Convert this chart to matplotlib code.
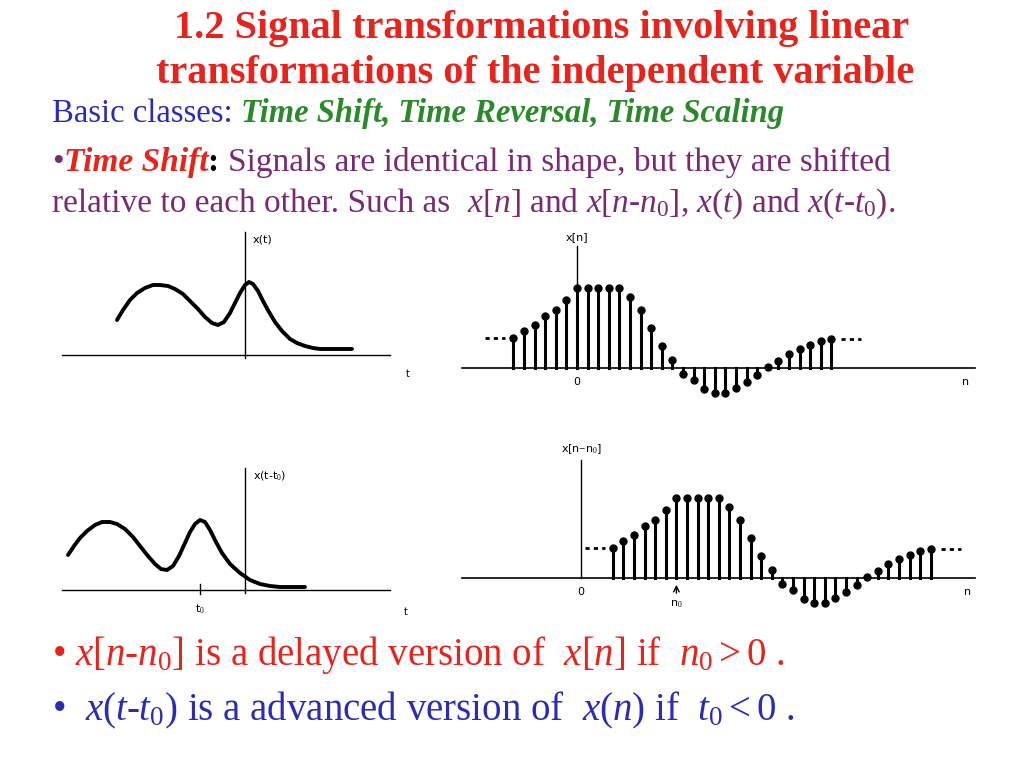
import matplotlib
matplotlib.use("Agg")
import matplotlib.pyplot as plt
import numpy as np

plt.rcParams['mathtext.fontset'] = 'custom'
plt.rcParams['mathtext.rm'] = 'Liberation Serif'
plt.rcParams['mathtext.it'] = 'Liberation Serif:italic'
plt.rcParams['mathtext.bf'] = 'Liberation Serif:bold'

# discrete signal x[n], n = -6..24
n_vals = list(range(-6, 25))
x_n = [90, 110, 127, 153, 173, 202, 237, 237, 237, 237, 237, 210, 172, 118, 65, 23,
       -17, -37, -63, -75, -75, -60, -42, -22, 2, 20, 40, 55, 68, 80, 87]
n0 = 9
# continuous curve x(t) samples (t relative to axis, amplitude)
t_top = [-128, -122, -115, -108, -100, -92, -85, -77, -70, -62, -55, -47, -40, -33, -27, -21,
         -15, -10, -5, 0, 4, 8, 13, 18, 24, 30, 37, 45, 52, 60, 68, 75, 90, 107]
x_top = [35, 45, 55, 62, 67, 70, 70, 69, 66, 61, 54, 46, 38, 32, 30, 33,
         42, 52, 62, 70, 73, 71, 64, 54, 43, 33, 24, 16, 12, 9, 7, 6, 6, 6]
t_bot = [-177, -171, -165, -158, -150, -143, -135, -128, -120, -112, -105, -97, -90, -84, -78,
         -72, -66, -60, -55, -50, -45, -40, -35, -29, -23, -15, -5, 5, 15, 25, 35, 60]
x_bot = [35, 44, 52, 59, 65, 68, 68, 66, 61, 53, 44, 34, 26, 21, 20, 24,
         34, 47, 58, 66, 70, 68, 60, 48, 37, 26, 17, 10, 6, 4, 3, 3]
t0_pos = -45

fig = plt.figure(figsize=(10.24, 7.68), dpi=100)
ax = fig.add_axes([0, 0, 1, 1])
ax.set_xlim(0, 1024); ax.set_ylim(768, 0); ax.axis('off')

serif = 'Liberation Serif'
sans = 'DejaVu Sans'
RED = '#e8231b'; BLUE = '#2b2bb8'; GREEN = '#2a8a2a'; PURPLE = '#7a2a72'

fig.canvas.draw()
R = fig.canvas.get_renderer()
def seq(x, y, pieces, size):
    for txt, col, kw in pieces:
        t = ax.text(x, y, txt, color=col, fontsize=size, family=serif, va='baseline', ha='left', **kw)
        bb = t.get_window_extent(renderer=R)
        x += bb.width

ax.text(542, 38, "1.2 Signal transformations involving linear", ha='center', va='baseline',
        fontsize=29, family=serif, weight='bold', color=RED)
ax.text(535, 83, "transformations of the independent variable", ha='center', va='baseline',
        fontsize=29, family=serif, weight='bold', color=RED)
seq(52, 122, [("Basic classes: ", BLUE, {}),
              ("Time Shift, Time Reversal, Time Scaling", GREEN, dict(style='italic', weight='bold'))], 23.5)
seq(52, 171, [("•", PURPLE, {}), ("Time Shift", RED, dict(style='italic', weight='bold')),
              (": ", 'black', dict(weight='bold')),
              ("Signals are identical in shape, but they are shifted", PURPLE, {})], 24)
seq(52, 212, [("relative to each other. Such as  ", PURPLE, {}),
              (r"$\mathit{x}$[$\mathit{n}$] and $\mathit{x}$[$\mathit{n}$-$\mathit{n}_0$], $\mathit{x}$($\mathit{t}$) and $\mathit{x}$($\mathit{t}$-$\mathit{t}_0$).", PURPLE, {})], 24)
seq(52, 665, [(r"• $\mathit{x}$[$\mathit{n}$-$\mathit{n}_0$] is a delayed version of  $\mathit{x}$[$\mathit{n}$] if  $\mathit{n}_0$$>$0 .", RED, {})], 28)
seq(52, 720, [(r"•  $\mathit{x}$($\mathit{t}$-$\mathit{t}_0$) is a advanced version of  $\mathit{x}$($\mathit{n}$) if  $\mathit{t}_0$$<$0 .", BLUE, {})], 28)

# continuous plots
def cont(ax0, base, tt, xx, vtop, label, lw=2.8):
    ax.plot([62, 390], [base, base], color='black', lw=1)
    ax.plot([ax0, ax0], [vtop, base + 3], color='black', lw=1)
    ax.plot([ax0 + t for t in tt], [base - v for v in xx], color='black', lw=lw,
            solid_capstyle='round', solid_joinstyle='round')
    ax.text(ax0 + 8, vtop + 8, label, fontsize=8, family=sans, va='center')
cont(245, 355, t_top, x_top, 232, "x(t)")
ax.text(408, 374, "t", fontsize=7, family=sans, ha='center', va='center')
cont(245, 590, t_bot, x_bot, 468, r"x(t-t$_0$)")
ax.plot([245 + t0_pos] * 2, [584, 594], color='black', lw=1)
ax.text(245 + t0_pos, 609, r"t$_0$", fontsize=8, family=sans, ha='center', va='center')
ax.text(406, 612, "t", fontsize=7, family=sans, ha='center', va='center')

# discrete plots
def disc(x0, base, shift, vtop, label, right):
    dx = 10.6; sc = 80 / 237
    ax.plot([462, 975], [base, base], color='black', lw=1.2)
    ax.plot([x0, x0], [vtop, base], color='black', lw=1)
    xs = [x0 + (n + shift) * dx for n in n_vals]
    ys = [base - v * sc for v in x_n]
    for xi, yi in zip(xs, ys):
        ax.plot([xi, xi], [base, yi], color='black', lw=2.2)
    ax.plot(xs, ys, 'o', color='black', ms=5)
    ax.plot([xs[0] - 28, xs[0] - 8], [ys[0]] * 2, color='black', lw=2, ls=(0, (1.5, 1.5)))
    ax.plot([xs[-1] + 10, xs[-1] + 30], [ys[-1]] * 2, color='black', lw=2, ls=(0, (1.5, 1.5)))
    ax.text(x0, vtop - 4, label, fontsize=8, family=sans, ha='center', va='bottom')
    ax.text(x0, base + 14, "0", fontsize=8, family=sans, ha='center', va='center')
    ax.text(right, base + 14, "n", fontsize=8, family=sans, ha='center', va='center')
disc(577, 368, 0, 246, "x[n]", 966)
disc(581, 578, n0, 460, r"x[n$-$n$_0$]", 968)
xn0 = 581 + n0 * 10.6
ax.annotate("", xy=(xn0, 582), xytext=(xn0, 596), arrowprops=dict(arrowstyle='->', lw=1, color='black'))
ax.text(xn0, 604, r"n$_0$", fontsize=8, family=sans, ha='center', va='center')

fig.savefig("out.png", dpi=100)
